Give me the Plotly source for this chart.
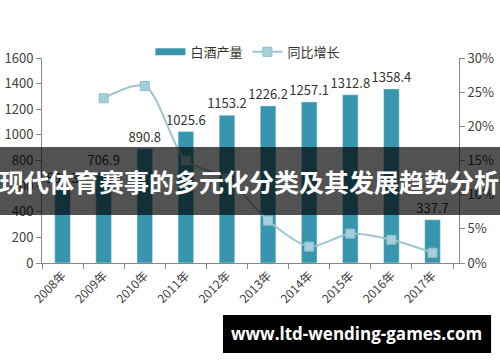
import plotly.graph_objects as go

years = ["2008年", "2009年", "2010年", "2011年", "2012年", "2013年", "2014年", "2015年", "2016年", "2017年"]
output = [569.3, 706.9, 890.8, 1025.6, 1153.2, 1226.2, 1257.1, 1312.8, 1358.4, 337.7]
growth_years = ["2009年", "2010年", "2011年", "2012年", "2013年", "2014年", "2015年", "2016年", "2017年"]
growth = [24.1, 25.9, 15.0, 12.4, 6.2, 2.4, 4.3, 3.4, 1.5]

BAR = "#3796ae"
LINE = "#9fc5d1"
FONT = "Noto Sans CJK SC"

fig = go.Figure()
fig.add_trace(go.Bar(
    x=years, y=output, name="白酒产量", marker_color=BAR, width=0.38,
    text=[f"{v:.1f}" for v in output], textposition="outside", cliponaxis=False,
    constraintext="none",
    textfont=dict(size=13, color="#333333"), showlegend=False,
))
# legend-only swatch (thick line like the original)
fig.add_trace(go.Scatter(x=[None], y=[None], mode="lines", name="白酒产量",
                         line=dict(color=BAR, width=7)))
fig.add_trace(go.Scatter(
    x=growth_years, y=growth, name="同比增长", yaxis="y2", mode="lines+markers",
    line=dict(color=LINE, width=2, shape="spline", smoothing=0.8),
    marker=dict(symbol="square", size=9, color="#a6cfdb", line=dict(color="#93bfcc", width=1)),
))

fig.update_layout(
    width=500, height=362,
    margin=dict(l=42, r=41, t=58, b=99, autoexpand=False),
    paper_bgcolor="white", plot_bgcolor="white",
    font=dict(family=FONT, size=13, color="#404040"),
    bargap=0.62,
    legend=dict(orientation="h", x=0.26, y=1.03, xanchor="left", yanchor="middle",
                font=dict(size=13, color="#333333"), itemwidth=30, bgcolor="rgba(0,0,0,0)"),
    xaxis=dict(type="category", tickangle=-45, showline=True, linecolor="#888888",
               ticks="outside", tickson="boundaries", ticklen=5, tickcolor="#888888",
               tickfont=dict(size=12, color="#404040"), showgrid=False, automargin=False),
    yaxis=dict(range=[0, 1600], dtick=200, showline=True, linecolor="#888888",
               ticks="outside", ticklen=5, tickcolor="#888888", showgrid=False,
               zeroline=False, tickfont=dict(size=13), automargin=False),
    yaxis2=dict(range=[0, 30], dtick=5, ticksuffix="%", overlaying="y", side="right",
                showline=True, linecolor="#888888", ticks="outside", ticklen=5,
                tickcolor="#888888", showgrid=False, zeroline=False, tickfont=dict(size=13),
                automargin=False),
    shapes=[
        dict(type="rect", xref="paper", yref="paper", x0=-0.11, x1=1.11, y0=0.234, y1=0.566,
             fillcolor="rgba(0,0,0,0.68)", line=dict(width=0), layer="above"),
        dict(type="rect", xref="paper", yref="paper", x0=0.434, x1=1.077, y0=-0.439, y1=-0.254,
             fillcolor="black", line=dict(width=0), layer="above"),
    ],
    annotations=[
        dict(text="<b>现代体育赛事的多元化分类及其发展趋势分析</b>", xref="paper", yref="paper",
             x=0.497, y=0.40, xanchor="center", yanchor="middle", showarrow=False,
             font=dict(family=FONT, size=25, color="white")),
        dict(text="<b>www.ltd-wending-games.com</b>", xref="paper", yref="paper",
             x=0.755, y=-0.346, xanchor="center", yanchor="middle", showarrow=False,
             font=dict(family="Open Sans", size=17, color="white")),
    ],
)

fig.write_html("out.html", config={"displayModeBar": False},
               post_script="document.body.style.margin='0';")
